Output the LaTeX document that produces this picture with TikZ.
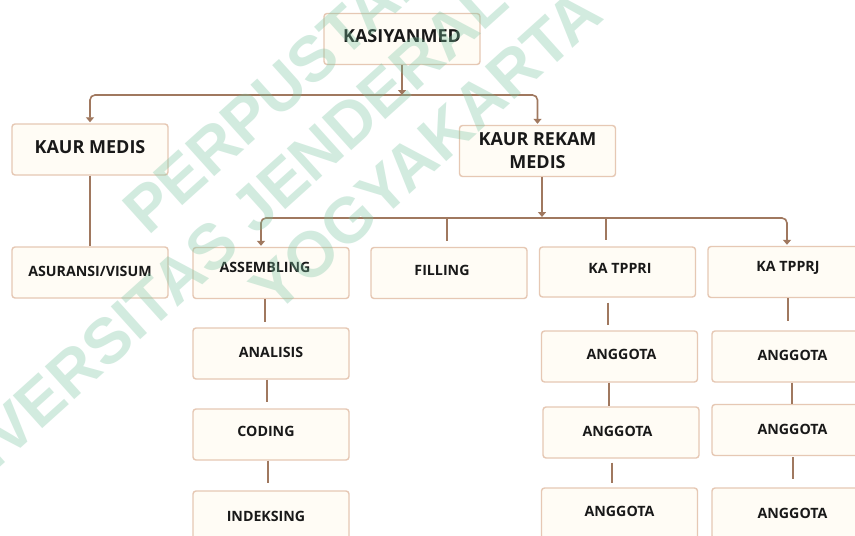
\documentclass[tikz,border=0pt]{standalone}
\usepackage{fontspec}
\setmainfont{Open Sans}
\newfontfamily\wmfont{Liberation Sans}
\usetikzlibrary{arrows.meta}
\definecolor{linec}{RGB}{160,120,95}
\definecolor{boxd}{RGB}{230,200,180}
\definecolor{boxf}{RGB}{255,252,245}
\definecolor{wm}{RGB}{120,195,160}
\definecolor{ink}{RGB}{25,25,25}
\begin{document}
\begin{tikzpicture}[x=1pt,y=-1pt,
  box/.style={draw=boxd, fill=boxf, line width=1.4pt, rounded corners=3pt,
    minimum width=156pt, minimum height=51pt, inner sep=0pt, text=ink,
    font=\bfseries\fontsize{14.2}{16}\selectfont},
  txt/.style={text height=0.72em, text depth=0pt},
  big/.style={font=\bfseries\fontsize{18}{23}\selectfont},
  lbl/.style={inner sep=0pt, txt, text=ink, font=\bfseries\fontsize{14.2}{16}\selectfont},
  conn/.style={draw=linec, line width=1.6pt},
  arr/.style={conn, -{Triangle[width=8pt,length=5pt]}},
]
\path[use as bounding box, clip] (0,0) rectangle (855,536);
\fill[white] (0,0) rectangle (855,536);

% boxes
\node[box,big,txt] (kasi) at (402,39) {KASIYANMED};
\node[box,big,txt] (kmed) at (90,149.5) {KAUR MEDIS};
\node[box,big,align=center] (krm) at (537.5,151) {KAUR REKAM\\MEDIS};
\node[box,txt] (asur) at (90,272.5) {ASURANSI/VISUM};
\node[box] (asm) at (271,273) {};
\node[lbl] (asmT) at (265,269) {ASSEMBLING};
\node[box] (fil) at (449,273) {};
\node[lbl] (filT) at (442,272) {FILLING};
\node[box,minimum height=50pt] (tppri) at (617.5,272) {};
\node[lbl] (tppriT) at (620,270) {KA TPPRI};
\node[box] (tpprj) at (786,272) {};
\node[lbl] (tpprjT) at (788,268) {KA TPPRJ};
\node[box,txt] (ana) at (271,353.5) {ANALISIS};
\node[box] (cod) at (271,434.5) {};
\node[lbl] (codT) at (266,433) {CODING};
\node[box] (idx) at (271,516.5) {};
\node[lbl] (idxT) at (266,518) {INDEKSING};
\node[box] (a1) at (619.5,356.5) {};
\node[lbl] (a1T) at (621.5,356) {ANGGOTA};
\node[box] (a2) at (621,432.5) {};
\node[lbl] (a2T) at (617.5,433) {ANGGOTA};
\node[box] (a3) at (619.5,513.5) {};
\node[lbl] (a3T) at (619.5,513) {ANGGOTA};
\node[box] (b1) at (790,356.5) {};
\node[lbl] (b1T) at (792.5,357) {ANGGOTA};
\node[box] (b2) at (790,430) {};
\node[lbl] (b2T) at (792.5,431) {ANGGOTA};
\node[box] (b3) at (790,513.5) {};
\node[lbl] (b3T) at (792.5,515) {ANGGOTA};

% top level connectors
\coordinate (bus1) at (402,95);
\draw[arr] (kasi.south) -- (bus1);
\draw[arr, rounded corners=5pt] (bus1) -| ([yshift=1pt]kmed.north);
\draw[arr, rounded corners=5pt] (bus1) -| ([yshift=1pt]krm.north);
\draw[conn] (kmed.south) -- (asur.north);

% second level
\coordinate (bus2) at (542,218);
\draw[arr] ([xshift=4.5pt]krm.south) -- ([yshift=1pt]bus2);
\draw[arr, rounded corners=5pt] (bus2) -| ([xshift=-10pt,yshift=1pt]asm.north);
\draw[arr, rounded corners=5pt] (bus2) -| ([xshift=1pt,yshift=1pt]tpprj.north);
\coordinate (filTop) at ([xshift=-2pt,yshift=6pt]fil.north);
\coordinate (tppriTop) at ([xshift=-11.5pt,yshift=6pt]tppri.north);
\draw[conn] (filTop |- bus2) -- (filTop);
\draw[conn] (tppriTop |- bus2) -- (tppriTop);

% chains
\draw[conn, shorten >=5pt] ([xshift=-6pt]asm.south) -- ([xshift=-6pt]ana.north);
\draw[conn, shorten >=6pt] ([xshift=-4pt]ana.south) -- ([xshift=-4pt]cod.north);
\draw[conn, shorten >=7pt] ([xshift=-3pt]cod.south) -- ([xshift=-3pt]idx.north);
\draw[conn, shorten <=5pt, shorten >=5pt] ([xshift=-9.5pt]tppri.south) -- ([xshift=-11.5pt]a1.north);
\draw[conn] ([xshift=-10.5pt]a1.south) -- ([xshift=-12pt]a2.north);
\draw[conn, shorten <=4pt, shorten >=4pt] ([xshift=-9pt]a2.south) -- ([xshift=-7.5pt]a3.north);
\draw[conn, shorten >=9pt] ([xshift=2pt]tpprj.south) -- ([xshift=-2pt]b1.north);
\draw[conn] ([xshift=2pt]b1.south) -- ([xshift=2pt]b2.north);
\draw[conn, shorten <=1pt, shorten >=8pt] ([xshift=3pt]b2.south) -- ([xshift=3pt]b3.north);

% watermark
\node[rotate=42, text=wm, text opacity=0.33, align=center,
  font=\wmfont\bfseries\fontsize{64}{72}\selectfont] (wmark) at (378,97)
  {PERPUSTAKAAN\\UNIVERSITAS JENDERAL ACHMAD YANI\\YOGYAKARTA};
\end{tikzpicture}
\end{document}
